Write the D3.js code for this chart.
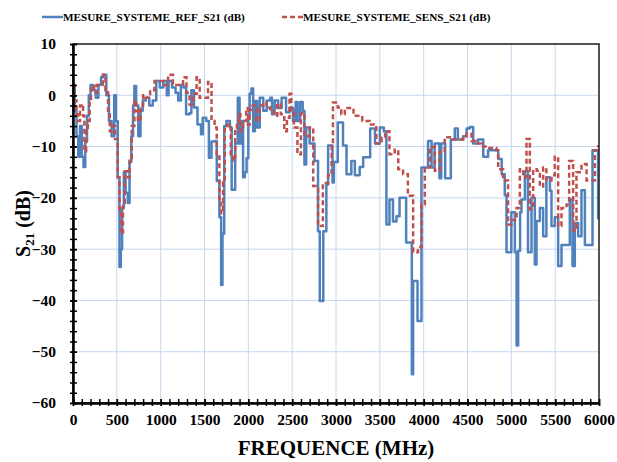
<!DOCTYPE html>
<html><head><meta charset="utf-8">
<script src="https://cdn.jsdelivr.net/npm/d3@7/dist/d3.min.js"></script>
<style>body{margin:0;background:#fff}svg{display:block}text{font-family:"Liberation Serif","DejaVu Serif",serif;font-weight:bold}</style>
</head><body>
<script>
const seriesNames = ["MESURE_SYSTEME_REF_S21 (dB)", "MESURE_SYSTEME_SENS_S21 (dB)"];
const xTicks = [0,500,1000,1500,2000,2500,3000,3500,4000,4500,5000,5500,6000];
const yTicks = [10,0,-10,-20,-30,-40,-50,-60];
const refFreq = [0,20,40,60,80,100,120,140,160,180,200,230,260,290,320,350,380,410,440,470,490,510,530,545,560,580,600,625,645,665,685,700,720,745,770,795,830,870,910,950,990,1030,1070,1090,1130,1170,1200,1230,1260,1290,1330,1350,1380,1420,1460,1480,1520,1550,1580,1615,1640,1670,1690,1705,1725,1750,1790,1810,1850,1880,1900,1920,1940,1960,1980,2000,2015,2035,2055,2075,2100,2130,2170,2210,2250,2270,2300,2340,2380,2430,2470,2510,2540,2560,2590,2620,2640,2660,2700,2755,2795,2815,2855,2890,2910,2960,2975,3020,3080,3120,3175,3215,3270,3310,3390,3445,3500,3545,3575,3610,3650,3690,3725,3800,3865,3880,3930,3975,4050,4090,4125,4180,4200,4245,4310,4355,4390,4450,4490,4525,4565,4620,4680,4735,4850,4890,4925,4945,5000,5040,5060,5078,5100,5116,5155,5190,5230,5268,5287,5325,5363,5400,5440,5458,5496,5534,5572,5667,5698,5724,5762,5800,5839,5926,5990,6000];
const refVal = [1.5,-3,-8,-12,-6,-12,-14,-9,-4,0,2,1,-0.5,2,3.5,4,0,-5,-8,0,-5,-16,-33.5,-30,-22,-15,-19,-21,-13,-8,-2,1.8,-2,-8,-3,-1,-0.5,-2,-1,2.8,1.5,2.8,0,2.8,1.5,0.5,-1,2,1.5,-3.7,-3.5,1,-2.4,-5.7,-7.6,-4.4,-5,-12.2,-9,-8.9,-16.7,-23.8,-37,-27,-6,-5,-6.3,-18.4,-9.4,-0.5,-9.4,-5,-16,-15,-12.3,-3.7,0.3,1.3,-7,-1.1,-6.3,-0.5,-3,-1,-0.5,-3.7,-1,-2.5,-0.5,-3.3,-2.5,-5,-1.3,-5,-1.3,-3,-13.5,-6.3,-9.4,-12.8,-26.5,-40.1,-26.5,-17.4,-9.8,-17,-13,-5.3,-9.8,-15.4,-12.8,-15.6,-14,-12.1,-6.5,-9.4,-6.3,-7,-25.2,-20.3,-24.6,-23.6,-20,-28.7,-54.4,-36.2,-44,-14.1,-8.9,-14.1,-9.4,-16.2,-9.4,-16.2,-8.6,-6.5,-8.6,-8,-6.5,-6.2,-9.4,-8.6,-12,-10.7,-12.4,-15.4,-19.5,-30.6,-22.8,-30.6,-48.8,-30.3,-22.8,-20.3,-14.8,-30.6,-20,-33,-24.5,-22,-27.5,-16,-18.6,-25.5,-23.8,-33.3,-29.2,-20.3,-33.3,-24.9,-27.5,-18.5,-29.2,-10.7,-24,-24];
const sensFreq = [0,20,40,60,80,100,115,130,150,170,190,205,240,270,300,340,370,400,420,450,480,510,530,550,570,590,625,645,670,700,720,740,770,800,830,880,930,970,1030,1085,1140,1200,1255,1295,1330,1370,1410,1445,1505,1540,1580,1615,1640,1670,1690,1712,1731,1760,1800,1830,1850,1870,1890,1910,1940,1975,1995,2015,2050,2090,2130,2170,2210,2250,2290,2330,2370,2410,2440,2470,2490,2520,2560,2600,2640,2700,2740,2795,2850,2910,2950,2965,3020,3060,3100,3200,3300,3385,3460,3520,3560,3610,3670,3710,3765,3820,3880,3935,3975,4013,4070,4127,4184,4240,4300,4450,4490,4545,4600,4660,4750,4830,4850,4905,4963,5000,5060,5097,5135,5173,5211,5249,5290,5325,5363,5400,5458,5496,5534,5572,5630,5659,5705,5743,5800,5858,5953,5990,6000];
const sensVal = [2,-1,-3.7,-5,-2,-1.8,-4,-10.9,-7,-5,-1,1.8,0.5,2,2,4,1,-3,-7,-6,-8.5,-16,-22.6,-27,-21,-14.8,-16,-12.3,-6,-1,-3,-5,-2,0,-0.5,1,2.8,2.8,2,4,2,2,3.5,0.5,-1.8,0.3,3.5,-0.5,-0.5,2.6,-5,-6.3,-11.5,-21,-23,-17,-6.3,-5.7,-11.5,-12.7,-7,-5,-3.7,-7,-5,-2.5,-5.7,-2.8,-2,-5,-2,-1.4,-2.4,-3,-4,-1.7,-3.7,-7,-4.4,0.3,-3,-6.3,-11.5,-3.5,-8,-6.3,-17.7,-25.5,-17.1,-15.6,-9.4,-1.4,-2.4,-3.7,-2.5,-4,-5,-5.7,-9.4,-8.2,-7,-11.5,-10.6,-14.4,-15.4,-19.6,-30.6,-29.6,-21.3,-14.1,-10.1,-14.7,-11,-8.2,-8.6,-8,-7.5,-8.9,-9.4,-10,-10.3,-10.7,-14.4,-16.6,-25.2,-24.3,-22,-14.4,-16,-8.5,-22.2,-14.4,-14.7,-17.8,-14.1,-16.6,-15.6,-12,-25.5,-22,-21.3,-12.8,-26.4,-15,-13.4,-16.6,-10.7,-10,-10];

const W = 617, H = 462;
const m = {left:73, right:18, top:44, bottom:59};
const svg = d3.select("body").append("svg").attr("width",W).attr("height",H);
const x = d3.scaleLinear().domain([0,6000]).range([m.left, W-m.right]);
const y = d3.scaleLinear().domain([-60,10]).range([H-m.bottom, m.top]);

// grid
const grid = svg.append("g").attr("stroke","#c6d6f0").attr("stroke-width",1);
xTicks.forEach(t=>grid.append("line").attr("x1",x(t)).attr("x2",x(t)).attr("y1",y(10)).attr("y2",y(-60)));
yTicks.forEach(t=>grid.append("line").attr("x1",x(0)).attr("x2",x(6000)).attr("y1",y(t)).attr("y2",y(t)));

svg.append("clipPath").attr("id","c").append("rect").attr("x",x(0)).attr("y",y(10)).attr("width",x(6000)-x(0)).attr("height",y(-60)-y(10));

const line = d3.line().x(d=>x(d[0])).y(d=>y(d[1])).curve(d3.curveStepAfter);
const refData = refFreq.map((f,i)=>[f,refVal[i]]);
const sensData = sensFreq.map((f,i)=>[f,sensVal[i]]);
const lines = svg.append("g").attr("clip-path","url(#c)");
lines.append("path").datum(refData).attr("d",line).attr("fill","none").attr("stroke","#4f81bd").attr("stroke-width",2.5).attr("stroke-linejoin","round");
lines.append("path").datum(sensData).attr("d",line).attr("fill","none").attr("stroke","#c0504d").attr("stroke-width",2.5).attr("stroke-dasharray","5,3");

// frame
svg.append("rect").attr("x",x(0)).attr("y",y(10)).attr("width",x(6000)-x(0)).attr("height",y(-60)-y(10)).attr("fill","none").attr("stroke","#222").attr("stroke-width",1.5);

// axes
const xAxis = svg.append("g").attr("transform",`translate(0,${y(-60)})`);
xAxis.call(d3.axisBottom(x).tickValues(d3.range(0,6001,100)).tickFormat("").tickSizeInner(-4).tickSizeOuter(0));
xAxis.append("g").call(d3.axisBottom(x).tickValues(xTicks).tickSize(3).tickFormat(d3.format("d")).tickSizeOuter(0));
xAxis.selectAll(".domain").attr("stroke","#000").attr("stroke-width",2);
xAxis.selectAll("line").attr("stroke","#000").attr("stroke-width",1.5);
xAxis.selectAll("g g line").each(function(){d3.select(this).attr("y1",-4).attr("y2",3);});
xAxis.selectAll("text").attr("font-size",15.5).attr("fill","#000").attr("dy","0.71em").attr("y",11);

const yAxis = svg.append("g").attr("transform",`translate(${x(0)},0)`);
yAxis.call(d3.axisLeft(y).tickValues(d3.range(-60,10.1,2)).tickFormat("").tickSizeInner(-4).tickSizeOuter(0));
yAxis.append("g").call(d3.axisLeft(y).tickValues(yTicks).tickSize(3).tickFormat(d3.format("d")).tickSizeOuter(0));
yAxis.selectAll(".domain").attr("stroke","#000").attr("stroke-width",2);
yAxis.selectAll("line").attr("stroke","#000").attr("stroke-width",1.5);
yAxis.selectAll("g g line").each(function(){d3.select(this).attr("x1",4).attr("x2",-3);});
yAxis.selectAll("text").attr("font-size",15.5).attr("fill","#000").attr("x",-17);

// titles
svg.append("text").attr("x",(x(0)+x(6000))/2).attr("y",455).attr("text-anchor","middle").attr("font-size",21).text("FREQUENCE (MHz)");
const yt = svg.append("text").attr("transform",`translate(30,${(y(10)+y(-60))/2}) rotate(-90)`).attr("text-anchor","middle").attr("font-size",20);
yt.append("tspan").text("S");
yt.append("tspan").attr("font-size",13).attr("dy",4).text("21");
yt.append("tspan").attr("dy",-4).text(" (dB)");

// legend
const lg = svg.append("g").attr("font-size",11.2);
lg.append("line").attr("x1",42).attr("x2",63).attr("y1",17).attr("y2",17).attr("stroke","#4f81bd").attr("stroke-width",2.5);
lg.append("text").attr("x",63).attr("y",21).text(seriesNames[0]);
lg.append("line").attr("x1",282).attr("x2",303).attr("y1",17).attr("y2",17).attr("stroke","#c0504d").attr("stroke-width",2.5).attr("stroke-dasharray","5,3");
lg.append("text").attr("x",303).attr("y",21).text(seriesNames[1]);
</script>
</body></html>
